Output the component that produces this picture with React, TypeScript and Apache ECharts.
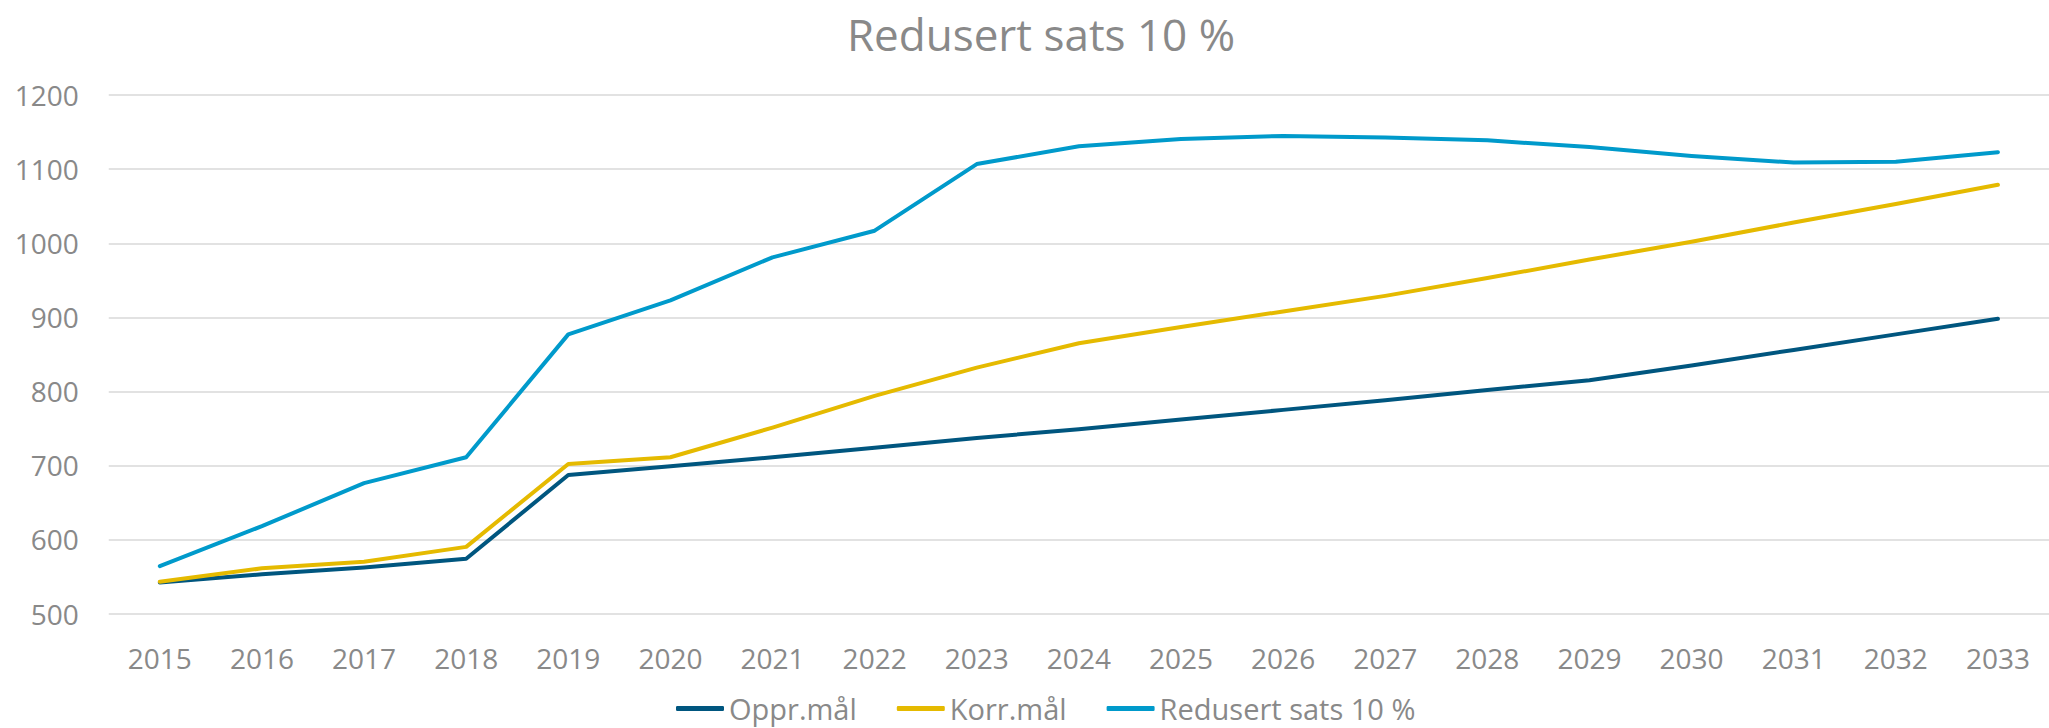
import React, { useEffect, useRef } from "react";
import * as echarts from "echarts";

const years = ["2015","2016","2017","2018","2019","2020","2021","2022","2023","2024","2025","2026","2027","2028","2029","2030","2031","2032","2033"];
const opprMaal = [542, 553, 562, 574, 687, 699, 711, 724, 737, 749, 762, 775, 788, 802, 815, 835, 856, 877, 898];
const korrMaal = [543, 561, 570, 590, 702, 711, 751, 794, 832, 865, 887, 908, 929, 953, 978, 1002, 1028, 1053, 1079];
const redusert = [564, 618, 676, 711, 877, 923, 981, 1017, 1107, 1131, 1141, 1145, 1143, 1139, 1130, 1118, 1109, 1110, 1123];
const seriesNames = ["Oppr.mål", "Korr.mål", "Redusert sats 10 %"];
const colors = ["#00567F", "#E5BA00", "#009ACB"];
const titleText = "Redusert sats 10 %";

const FONT = "'Open Sans', 'Noto Sans', sans-serif";
const GRAY = "#898989";

export default function App() {
  const ref = useRef<HTMLDivElement>(null);
  useEffect(() => {
    document.body.style.margin = "0";
    if (!ref.current) return;
    const chart = echarts.init(ref.current, undefined, { renderer: "svg" });
    const data = [opprMaal, korrMaal, redusert];
    chart.setOption({
      animation: false,
      backgroundColor: "#ffffff",
      graphic: [
        {
          type: "text",
          x: 1041,
          y: 34,
          style: {
            text: titleText,
            textAlign: "center",
            textVerticalAlign: "middle",
            fontFamily: FONT,
            fontSize: 44,
            fill: GRAY,
          },
        },
      ],
      legend: {
        left: 676,
        top: 694,
        padding: 0,
        itemWidth: 48,
        itemHeight: 5,
        itemGap: 40,
        icon: "roundRect",
        data: seriesNames,
        textStyle: { fontFamily: FONT, fontSize: 29, color: GRAY },
      },
      grid: { left: 108.75, top: 95.2, width: 1947, height: 518.3 },
      xAxis: {
        type: "category",
        data: years,
        boundaryGap: true,
        axisLine: { show: false },
        axisTick: { show: false },
        axisLabel: { margin: 30, fontFamily: FONT, fontSize: 28, color: GRAY },
      },
      yAxis: {
        type: "value",
        min: 500,
        max: 1200,
        interval: 100,
        axisLine: { show: false },
        axisTick: { show: false },
        splitLine: { lineStyle: { color: "#D9D9D9", width: 1.5 } },
        axisLabel: {
          margin: 30,
          fontFamily: FONT,
          fontSize: 28,
          color: GRAY,
          formatter: (v: number) => String(v),
        },
      },
      series: seriesNames.map((name, i) => ({
        name,
        type: "line",
        data: data[i],
        symbol: "none",
        showSymbol: false,
        color: colors[i],
        lineStyle: { width: 4, color: colors[i], cap: "round", join: "round" },
        itemStyle: { color: colors[i] },
      })),
    });
    return () => chart.dispose();
  }, []);
  return (
    <div
      ref={ref}
      style={{ position: "fixed", left: 0, top: 0, width: 2049, height: 728 }}
    />
  );
}
